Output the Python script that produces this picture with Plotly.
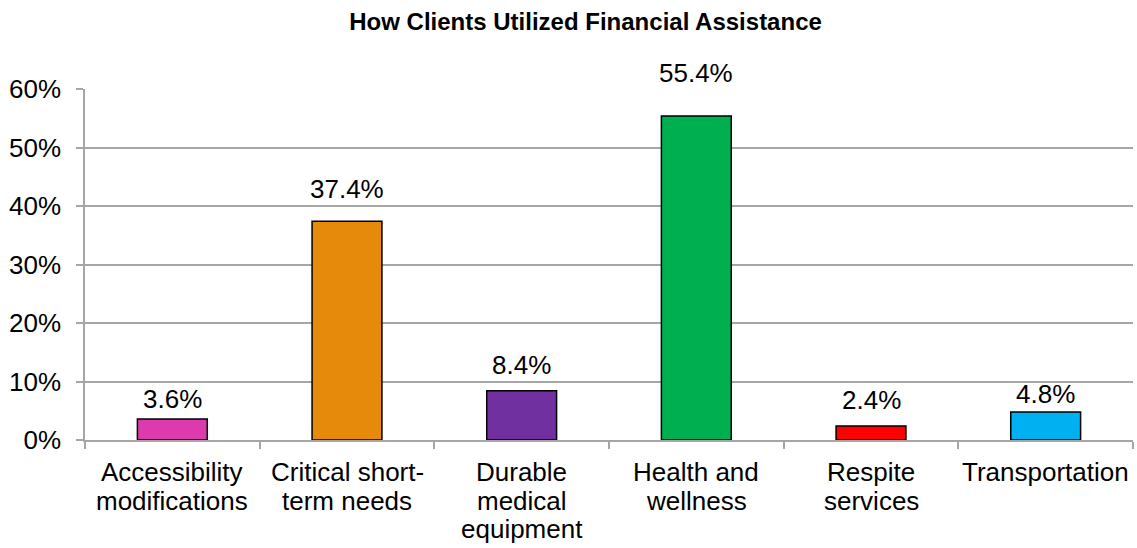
import plotly.graph_objects as go

categories = [
    "Accessibility modifications",
    "Critical short-term needs",
    "Durable medical equipment",
    "Health and wellness",
    "Respite services",
    "Transportation",
]
category_lines = [
    ["Accessibility", "modifications"],
    ["Critical short-", "term needs"],
    ["Durable", "medical", "equipment"],
    ["Health and", "wellness"],
    ["Respite", "services"],
    ["Transportation"],
]
shares = [0.036, 0.374, 0.084, 0.554, 0.024, 0.048]
bar_colors = ["#DD3AAE", "#E68A0C", "#7030A0", "#00B050", "#FF0000", "#00B0F0"]

# pixel lift of each value label above its bar
label_lift = [20, 32, 26, 43, 26, 18]

label_font = "Liberation Sans, Arial, sans-serif"
font_size = 26
grid_gray = "#A6A6A6"

fig = go.Figure(
    go.Bar(
        x=categories,
        y=shares,
        width=0.4,
        marker=dict(color=bar_colors, line=dict(color="black", width=1.5)),
        hovertemplate="%{x}: %{y:.1%}<extra></extra>",
    )
)

# value labels above the bars
for cat, val, lift in zip(categories, shares, label_lift):
    fig.add_annotation(
        x=cat, y=val, xref="x", yref="y",
        text=f"{val * 100:.1f}%",
        showarrow=False,
        yanchor="middle",
        yshift=lift,
        font=dict(family=label_font, size=font_size, color="black"),
    )

# category names under the axis, one line at a time for tighter leading
for cat, lines in zip(categories, category_lines):
    for i, line in enumerate(lines):
        fig.add_annotation(
            x=cat, y=0, xref="x", yref="y",
            text=line,
            showarrow=False,
            yanchor="middle",
            yshift=-(32 + i * 28.5),
            font=dict(family=label_font, size=font_size, color="black"),
        )

fig.update_layout(
    width=1137,
    height=548,
    margin=dict(l=85, r=4, t=89, b=108),
    paper_bgcolor="white",
    plot_bgcolor="white",
    showlegend=False,
    font=dict(family=label_font, size=font_size, color="black"),
    title=dict(
        text="<b>How Clients Utilized Financial Assistance</b>",
        x=0.515,
        xanchor="center",
        y=0.96,
        yanchor="middle",
        font=dict(family="Liberation Sans Narrow, Arial Narrow, Liberation Sans, sans-serif", size=24, color="black"),
    ),
)

fig.update_xaxes(
    showline=True,
    linecolor=grid_gray,
    linewidth=1.5,
    ticks="outside",
    tickson="boundaries",
    ticklen=7,
    tickcolor=grid_gray,
    tickwidth=1.5,
    showticklabels=False,
    showgrid=False,
)

fig.update_yaxes(
    range=[0, 0.6],
    dtick=0.1,
    tickformat=".0%",
    showline=True,
    linecolor=grid_gray,
    linewidth=1.5,
    ticks="outside",
    ticklen=7,
    tickcolor=grid_gray,
    tickwidth=1.5,
    ticklabelstandoff=10,
    showgrid=True,
    gridcolor=grid_gray,
    gridwidth=1.5,
    zeroline=False,
    tickfont=dict(size=font_size),
)

fig.write_html("out.html")
